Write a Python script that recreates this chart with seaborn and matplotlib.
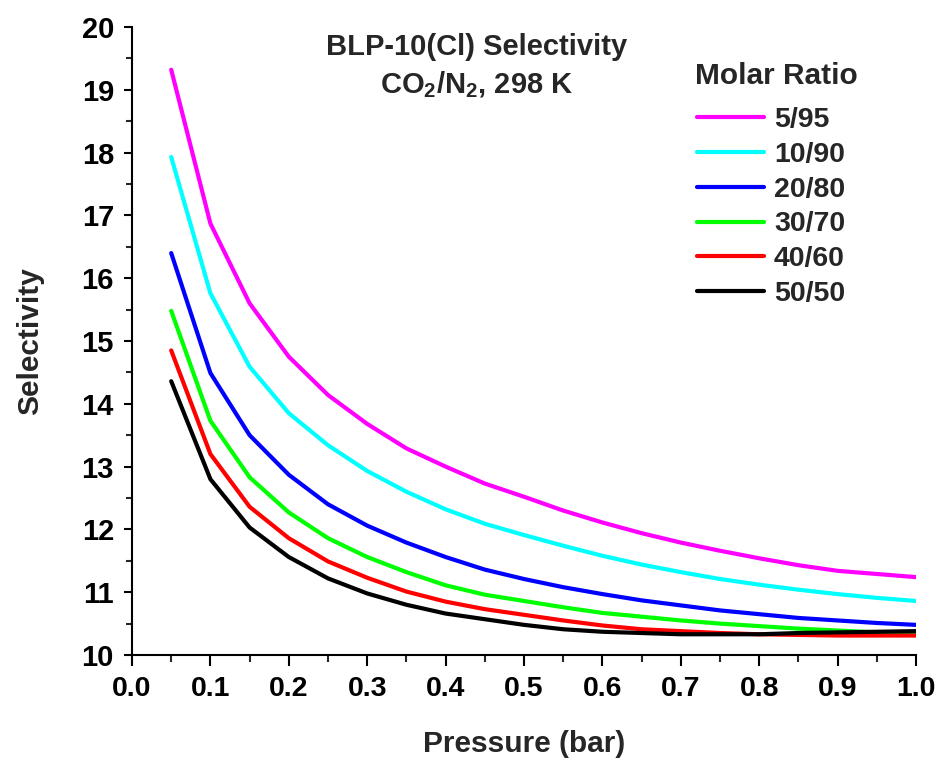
import numpy as np
import pandas as pd
import matplotlib
matplotlib.use("Agg")
import matplotlib.pyplot as plt
import seaborn as sns
from matplotlib.ticker import MultipleLocator

pressure = [0.05, 0.10, 0.15, 0.20, 0.25, 0.30, 0.35, 0.40, 0.45, 0.50,
            0.55, 0.60, 0.65, 0.70, 0.75, 0.80, 0.85, 0.90, 0.95, 1.00]
sel_5_95 = [19.32, 16.87, 15.60, 14.75, 14.14, 13.68, 13.29, 13.00, 12.73, 12.52,
            12.30, 12.11, 11.94, 11.79, 11.66, 11.54, 11.43, 11.34, 11.29, 11.24]
sel_10_90 = [17.93, 15.76, 14.59, 13.85, 13.34, 12.93, 12.60, 12.32, 12.09, 11.91,
             11.74, 11.58, 11.44, 11.32, 11.21, 11.12, 11.04, 10.97, 10.91, 10.86]
sel_20_80 = [16.40, 14.49, 13.50, 12.87, 12.40, 12.06, 11.79, 11.56, 11.36, 11.21,
             11.08, 10.97, 10.87, 10.79, 10.71, 10.65, 10.59, 10.55, 10.51, 10.48]
sel_30_70 = [15.48, 13.73, 12.83, 12.27, 11.86, 11.56, 11.32, 11.11, 10.96, 10.86,
             10.76, 10.67, 10.61, 10.55, 10.50, 10.46, 10.42, 10.39, 10.36, 10.34]
sel_40_60 = [14.85, 13.20, 12.36, 11.86, 11.49, 11.23, 11.01, 10.85, 10.73, 10.64,
             10.55, 10.47, 10.41, 10.38, 10.35, 10.33, 10.32, 10.31, 10.31, 10.31]
sel_50_50 = [14.36, 12.80, 12.03, 11.56, 11.22, 10.98, 10.80, 10.66, 10.57, 10.48,
             10.41, 10.37, 10.35, 10.33, 10.33, 10.33, 10.35, 10.36, 10.37, 10.38]
ratios = ["5/95", "10/90", "20/80", "30/70", "40/60", "50/50"]
colors = ["#FF00FF", "#00FFFF", "#0000FF", "#00FF00", "#FF0000", "#000000"]
x_ticks = [0.0, 0.1, 0.2, 0.3, 0.4, 0.5, 0.6, 0.7, 0.8, 0.9, 1.0]
y_ticks = [10, 11, 12, 13, 14, 15, 16, 17, 18, 19, 20]

series = [sel_5_95, sel_10_90, sel_20_80, sel_30_70, sel_40_60, sel_50_50]
df = pd.concat([pd.DataFrame({"Pressure": pressure, "Selectivity": s, "Ratio": r})
                for s, r in zip(series, ratios)], ignore_index=True)

sns.set_theme(style="ticks")
plt.rcParams["font.family"] = ["Liberation Sans", "DejaVu Sans"]
plt.rcParams["font.weight"] = "bold"
plt.rcParams["mathtext.fontset"] = "custom"
plt.rcParams["mathtext.rm"] = "Liberation Sans:bold"
plt.rcParams["mathtext.it"] = "Liberation Sans:bold"
plt.rcParams["mathtext.bf"] = "Liberation Sans:bold"

fig = plt.figure(figsize=(9.41, 7.60), dpi=100)
ax = fig.add_axes([132 / 941, 105 / 760, 784 / 941, 628 / 760])

sns.lineplot(data=df, x="Pressure", y="Selectivity", hue="Ratio",
             hue_order=ratios, palette=dict(zip(ratios, colors)),
             linewidth=3, ax=ax, legend=True)

ax.set_xlim(0.0, 1.0)
ax.set_ylim(10, 20)
ax.set_xticks(x_ticks)
ax.set_yticks(y_ticks)
ax.set_xticklabels([f"{v:.1f}" for v in x_ticks])
ax.set_yticklabels([str(v) for v in y_ticks])
ax.xaxis.set_minor_locator(MultipleLocator(0.05))
ax.yaxis.set_minor_locator(MultipleLocator(0.5))
for s in ["top", "right"]:
    ax.spines[s].set_visible(False)
for s in ["left", "bottom"]:
    ax.spines[s].set_linewidth(1.5)
    ax.spines[s].set_color("black")
ax.tick_params(axis="x", which="major", length=8, width=1.5, labelsize=20.5, pad=7, colors="black")
ax.tick_params(axis="x", which="minor", length=5, width=1.5)
ax.tick_params(axis="y", which="major", length=6, width=1.5, labelsize=21, pad=7, colors="black")
ax.tick_params(axis="y", which="minor", length=4, width=1.5)
for lab in ax.get_xticklabels() + ax.get_yticklabels():
    lab.set_fontweight("bold")

ax.set_xlabel("Pressure (bar)", fontsize=21.5, fontweight="bold", labelpad=20)
ax.set_ylabel("Selectivity", fontsize=21.5, fontweight="bold", labelpad=27)

ax.text(0.4395, 0.968, "BLP-10(Cl) Selectivity", transform=ax.transAxes,
        ha="center", va="center", fontsize=21, fontweight="bold")
ax.text(0.4395, 0.908, r"CO$_2$/N$_2$, 298 K", transform=ax.transAxes,
        ha="center", va="center", fontsize=21, fontweight="bold")

fig.text(695 / 941, 1 - 76 / 760, "Molar Ratio", ha="left", va="center",
         fontsize=21.5, fontweight="bold")

handles, labels = ax.get_legend_handles_labels()
leg = ax.legend(handles, labels, loc="upper left",
                bbox_to_anchor=(697 / 941, 1 - 107 / 760), bbox_transform=fig.transFigure,
                frameon=False, fontsize=20.5, handlelength=2.35,
                handletextpad=0.35, labelspacing=0.31, borderpad=0.0, borderaxespad=0.0)
for t in leg.get_texts():
    t.set_fontweight("bold")
for h in leg.legend_handles:
    h.set_linewidth(3)

fig.savefig("out.png", dpi=100)
